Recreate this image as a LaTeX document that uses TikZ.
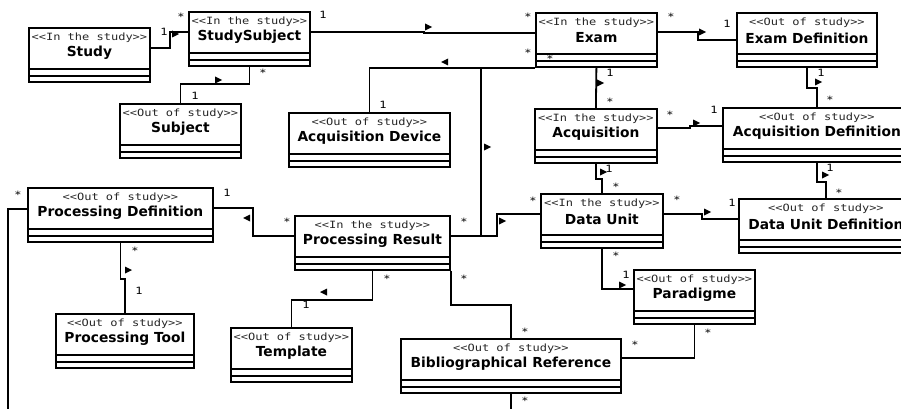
\documentclass[tikz,border=0pt]{standalone}
\usepackage{fontspec}
\newfontfamily\stereofont{DejaVu Sans Mono}[FakeStretch=1.2]
\newfontfamily\namefont{DejaVu Sans}

\tikzset{
	classbox/.style={draw, rectangle, line width=1.8pt, minimum height=54pt, inner sep=0pt, fill=white},
	stereo/.style={inner sep=0pt, font=\stereofont\fontsize{10}{10}\selectfont, text=black!85},
	cname/.style={inner sep=0pt, font=\namefont\bfseries\fontsize{13.8}{14}\selectfont},
	assoc/.style={line width=1.8pt},
	mult/.style={inner sep=0pt, text height=7pt, text depth=0pt, font=\stereofont\fontsize{10}{10}\selectfont},
	navtri/.pic={\fill (-3,-3.5) -- (4,0) -- (-3,3.5) -- cycle;}
}

\newcommand{\umlclass}[6]{%
	\node[classbox, minimum width=#4pt, anchor=north west] (#1) at (#2,#3) {};
	\draw[assoc] ([yshift=7pt]#1.south west) -- ([yshift=7pt]#1.south east)
		([yshift=14pt]#1.south west) -- ([yshift=14pt]#1.south east);
	\node[stereo] (#1s) at ([yshift=-11pt]#1.north) {<<#5>>};
	\node[cname] (#1n) at ([yshift=-26pt]#1.north) {#6};
}

\begin{document}
\begin{tikzpicture}[x=1pt, y=-1pt]
	\fill[white] (0,0) rectangle (901,409);
	\useasboundingbox (0,0) rectangle (901,409);
	\clip (0,0) rectangle (901,409);

	\umlclass{study}{28}{27}{121}{In the study}{Study}
	\umlclass{stsub}{188}{11}{121}{In the study}{StudySubject}
	\umlclass{subject}{119}{103}{121}{Out of study}{Subject}
	\umlclass{exam}{535}{12}{121}{In the study}{Exam}
	\umlclass{examdef}{736}{12}{140}{Out of study}{Exam Definition}
	\umlclass{acqdev}{288}{112}{161}{Out of study}{Acquisition Device}
	\umlclass{acq}{534}{108}{122}{In the study}{Acquisition}
	\umlclass{acqdef}{722}{107}{188}{Out of study}{Acquisition Definition}
	\umlclass{pd}{27}{187}{185}{Out of study}{Processing Definition}
	\umlclass{pr}{294}{215}{155}{In the study}{Processing Result}
	\umlclass{pt}{55}{313}{138}{Out of study}{Processing Tool}
	\umlclass{tpl}{230}{327}{121}{Out of study}{Template}
	\umlclass{du}{540}{193}{122}{In the study}{Data Unit}
	\umlclass{dud}{738}{198}{174}{Out of study}{Data Unit Definition}
	\umlclass{par}{633}{269}{121}{Out of study}{Paradigme}
	\umlclass{br}{400}{338}{220}{Out of study}{Bibliographical Reference}

	\coordinate (around) at (8,440);

	\draw[assoc] ([yshift=7pt]study.east) -- ++(19,0) |- ([yshift=7pt]stsub.west);
	\draw[assoc] ([yshift=7pt]stsub.east) -- ++(113,0) |- ([yshift=7pt]exam.west);
	\draw[assoc] (stsub.south) -- ++(0,17) -| (subject.north);
	\draw[assoc] ([yshift=8pt]exam.east) -- ++(40,0) |- (examdef.west);
	\draw[assoc] (exam.south west) -| (acqdev.north);
	\draw[assoc] ([yshift=7pt]pr.east) -- ++(30,0) |- (exam.south west);
	\draw[assoc] ([yshift=7pt]pr.east) -- ++(46,0) |- ([yshift=7pt]du.west);
	\draw[assoc] (exam.south) -- (acq.north);
	\draw[assoc] ([yshift=8pt]acq.east) -- ++(32,0) |- ([yshift=9pt]acqdef.west);
	\draw[assoc] (examdef.south) -- ++(0,20) -| (acqdef.north);
	\draw[assoc] (acq.south) -- ++(0,15) -| (du.north);
	\draw[assoc] (acqdef.south) -- ++(0,19) -| (dud.north);
	\draw[assoc] ([yshift=7pt]du.east) -- ++(38,0) |- ([yshift=7pt]dud.west);
	\draw[assoc] (du.south) |- ([yshift=8pt]par.west);
	\draw[assoc] (par.south) |- ([yshift=8pt]br.east);
	\draw[assoc] (pr.south east) -- ++(0,34) -| (br.north);
	\draw[assoc] ([yshift=6pt]pd.west) -| (around) -| (br.south);
	\draw[assoc] ([yshift=7pt]pr.west) -- ++(-41,0) |- ([yshift=7pt]pd.east);
	\draw[assoc] (pd.south) -- ++(0,36) -| (pt.north);
	\draw[assoc] (pr.south) -- ++(0,29) -| (tpl.north);

	% reading direction
	\foreach \tx/\ty/\tr in {175/34/0, 428/27/0, 218/80/0, 702/32/0, 445/62/180, 487/147/0,
		502/221/0, 600/83/0, 696/123/0, 818/82/0, 603/172/0, 825/175/0, 707/212/0,
		622/285/0, 247/218/180, 128/270/0, 324/292/180}
		\pic[rotate=\tr] at (\tx,\ty) {navtri};

	% multiplicities
	\foreach \mx/\my [count=\k] in {164/32, 323/15, 195/96, 727/24, 383/105, 610/73, 714/110,
		821/73, 609/169, 830/168, 732/203, 626/275, 227/193, 139/291, 306/305}
		\node[mult] (one\k) at (\mx,\my) {1};
	\foreach \mx/\my [count=\k] in {181/15, 528/15, 263/71, 671/15, 528/51, 550/57, 610/100,
		670/112, 830/98, 616/184, 839/190, 533/198, 677/197, 616/253, 708/330, 635/342,
		464/276, 525/329, 525/398, 18/192, 287/219, 135/248, 387/276, 464/219}
		\node[mult, yshift=-2.5pt] (many\k) at (\mx,\my) {*};
\end{tikzpicture}
\end{document}
